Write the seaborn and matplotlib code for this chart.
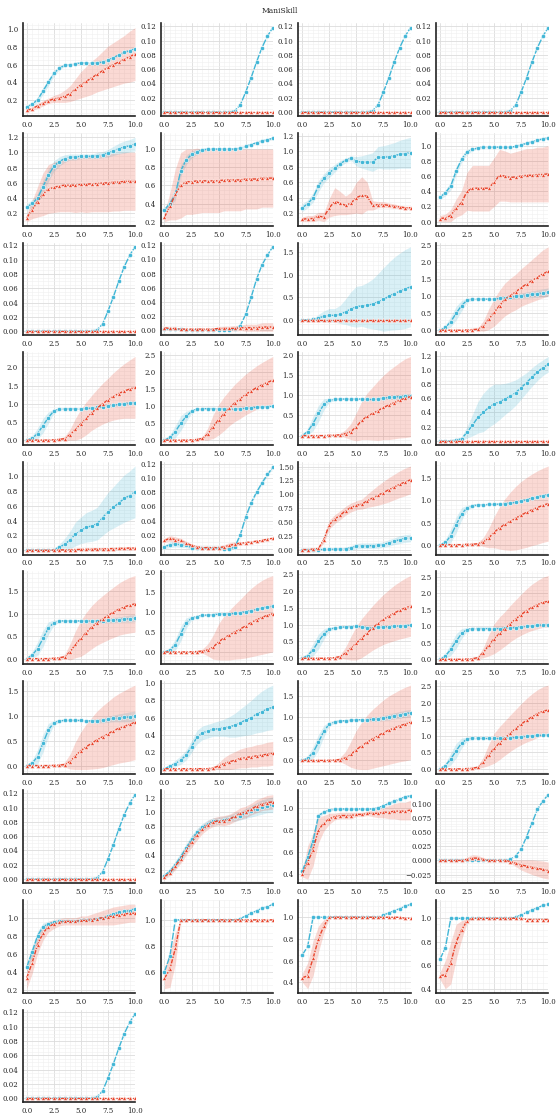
import numpy as np
import pandas as pd
import matplotlib
matplotlib.use("Agg")
import matplotlib.pyplot as plt
from matplotlib.ticker import MaxNLocator
import seaborn as sns

# training progress (x axis)
steps = [0.0, 0.5, 1.0, 1.5, 2.0, 2.5, 3.0, 3.5, 4.0, 4.5, 5.0,
         5.5, 6.0, 6.5, 7.0, 7.5, 8.0, 8.5, 9.0, 9.5, 10.0]

# shared curves
zero = [0.0, 0.0, 0.0, 0.0, 0.0, 0.0, 0.0, 0.0, 0.0, 0.0, 0.0,
        0.0, 0.0, 0.0, 0.0, 0.0, 0.0, 0.0, 0.0, 0.0, 0.0]
sig_b = [0.0, 0.0, 0.0, 0.0, 0.0, 0.0, 0.0, 0.0, 0.0, 0.0, 0.0,
         0.0, 0.0, 0.002, 0.010, 0.028, 0.048, 0.070, 0.090, 0.106, 0.118]

# per-task curves: _b / _r = means, _be / _re = band half widths
p01_b = [0.12, 0.15, 0.20, 0.30, 0.40, 0.50, 0.56, 0.59, 0.60, 0.61, 0.62, 0.62, 0.62, 0.62, 0.63, 0.65, 0.68, 0.71, 0.74, 0.76, 0.78]
p01_be = [0.01, 0.02, 0.03, 0.04, 0.04, 0.03, 0.02, 0.01, 0.01, 0.01, 0.01, 0.01, 0.01, 0.01, 0.01, 0.01, 0.01, 0.01, 0.01, 0.01, 0.01]
p01_r = [0.08, 0.10, 0.13, 0.16, 0.19, 0.21, 0.22, 0.24, 0.27, 0.32, 0.37, 0.41, 0.45, 0.49, 0.53, 0.57, 0.60, 0.63, 0.66, 0.69, 0.72]
p01_re = [0.02, 0.02, 0.03, 0.03, 0.03, 0.04, 0.05, 0.07, 0.09, 0.12, 0.15, 0.17, 0.19, 0.20, 0.22, 0.24, 0.25, 0.26, 0.27, 0.29, 0.30]

p05_b = [0.28, 0.33, 0.40, 0.55, 0.70, 0.82, 0.88, 0.92, 0.94, 0.94, 0.95, 0.95, 0.95, 0.96, 0.97, 0.99, 1.02, 1.05, 1.07, 1.09, 1.11]
p05_be = [0.04, 0.05, 0.06, 0.08, 0.08, 0.07, 0.06, 0.05, 0.04, 0.04, 0.03, 0.03, 0.03, 0.04, 0.04, 0.05, 0.06, 0.07, 0.08, 0.08, 0.09]
p05_r = [0.14, 0.25, 0.35, 0.45, 0.52, 0.54, 0.56, 0.57, 0.57, 0.57, 0.58, 0.58, 0.59, 0.59, 0.60, 0.60, 0.61, 0.61, 0.62, 0.62, 0.62]
p05_re = [0.05, 0.12, 0.20, 0.28, 0.32, 0.33, 0.34, 0.35, 0.35, 0.36, 0.36, 0.37, 0.37, 0.37, 0.38, 0.38, 0.38, 0.38, 0.38, 0.38, 0.38]

p06_b = [0.33, 0.40, 0.50, 0.76, 0.88, 0.94, 0.97, 0.99, 1.00, 1.00, 1.00, 1.00, 1.00, 1.00, 1.01, 1.03, 1.05, 1.07, 1.09, 1.10, 1.12]
p06_be = [0.03, 0.04, 0.06, 0.06, 0.05, 0.04, 0.03, 0.02, 0.01, 0.01, 0.01, 0.01, 0.01, 0.01, 0.01, 0.01, 0.01, 0.01, 0.01, 0.01, 0.01]
p06_r = [0.25, 0.37, 0.50, 0.60, 0.64, 0.64, 0.65, 0.65, 0.65, 0.65, 0.65, 0.66, 0.66, 0.66, 0.66, 0.67, 0.67, 0.67, 0.68, 0.68, 0.68]
p06_re = [0.05, 0.15, 0.28, 0.36, 0.36, 0.36, 0.36, 0.35, 0.35, 0.35, 0.35, 0.34, 0.34, 0.34, 0.34, 0.33, 0.33, 0.33, 0.32, 0.32, 0.32]

p07_b = [0.27, 0.32, 0.40, 0.55, 0.65, 0.72, 0.78, 0.84, 0.88, 0.91, 0.87, 0.86, 0.86, 0.86, 0.92, 0.92, 0.93, 0.94, 0.96, 0.97, 0.98]
p07_be = [0.05, 0.05, 0.06, 0.07, 0.06, 0.06, 0.05, 0.04, 0.03, 0.03, 0.06, 0.08, 0.10, 0.12, 0.14, 0.15, 0.16, 0.17, 0.18, 0.19, 0.20]
p07_r = [0.12, 0.13, 0.13, 0.16, 0.15, 0.27, 0.35, 0.33, 0.30, 0.33, 0.40, 0.43, 0.42, 0.30, 0.31, 0.31, 0.30, 0.29, 0.28, 0.27, 0.27]
p07_re = [0.03, 0.04, 0.04, 0.05, 0.06, 0.12, 0.18, 0.15, 0.12, 0.14, 0.20, 0.24, 0.18, 0.06, 0.04, 0.04, 0.03, 0.03, 0.02, 0.02, 0.02]

p08_b = [0.32, 0.38, 0.47, 0.67, 0.82, 0.92, 0.95, 0.97, 0.98, 0.98, 0.98, 0.98, 0.98, 0.98, 0.99, 1.01, 1.03, 1.05, 1.07, 1.09, 1.10]
p08_be = [0.03, 0.04, 0.05, 0.05, 0.04, 0.03, 0.02, 0.01, 0.01, 0.01, 0.01, 0.01, 0.01, 0.01, 0.01, 0.01, 0.01, 0.01, 0.01, 0.01, 0.01]
p08_r = [0.04, 0.05, 0.08, 0.18, 0.25, 0.40, 0.44, 0.44, 0.44, 0.44, 0.52, 0.61, 0.60, 0.58, 0.59, 0.60, 0.61, 0.61, 0.62, 0.62, 0.63]
p08_re = [0.04, 0.05, 0.08, 0.12, 0.16, 0.25, 0.30, 0.30, 0.30, 0.30, 0.32, 0.34, 0.33, 0.32, 0.33, 0.34, 0.35, 0.35, 0.36, 0.36, 0.37]

p10_b = [0.001, 0.001, 0.001, 0.001, 0.0, 0.0, 0.0, 0.0, 0.0, 0.0, 0.0, 0.0, 0.0, 0.001, 0.006, 0.022, 0.046, 0.072, 0.092, 0.106, 0.118]
p10_r = [0.003, 0.002, 0.002, 0.001, 0.001, 0.001, 0.001, 0.001, 0.001, 0.001, 0.002, 0.002, 0.002, 0.002, 0.003, 0.003, 0.003, 0.003, 0.004, 0.004, 0.004]
p10_re = [0.001, 0.001, 0.001, 0.001, 0.001, 0.001, 0.001, 0.001, 0.001, 0.002, 0.002, 0.003, 0.003, 0.004, 0.004, 0.005, 0.005, 0.005, 0.006, 0.006, 0.006]

p11_b = [0.0, 0.0, 0.01, 0.04, 0.08, 0.10, 0.10, 0.12, 0.18, 0.24, 0.29, 0.31, 0.32, 0.35, 0.40, 0.45, 0.52, 0.58, 0.63, 0.68, 0.73]
p11_be = [0.0, 0.0, 0.02, 0.08, 0.12, 0.15, 0.15, 0.20, 0.28, 0.38, 0.45, 0.45, 0.50, 0.55, 0.62, 0.70, 0.75, 0.80, 0.84, 0.87, 0.88]

p12_b = [0.0, 0.08, 0.25, 0.50, 0.72, 0.88, 0.91, 0.91, 0.91, 0.91, 0.92, 0.93, 0.95, 0.97, 0.99, 1.01, 1.03, 1.05, 1.07, 1.09, 1.11]
p12_be = [0.02, 0.07, 0.15, 0.20, 0.15, 0.06, 0.03, 0.02, 0.02, 0.02, 0.03, 0.04, 0.05, 0.06, 0.07, 0.08, 0.09, 0.10, 0.11, 0.12, 0.13]
p12_r = [0.0, 0.0, 0.0, 0.0, 0.0, 0.01, 0.02, 0.03, 0.12, 0.32, 0.52, 0.72, 0.90, 1.02, 1.12, 1.25, 1.35, 1.45, 1.55, 1.65, 1.72]
p12_re = [0.0, 0.0, 0.0, 0.0, 0.0, 0.01, 0.02, 0.04, 0.15, 0.30, 0.40, 0.45, 0.48, 0.50, 0.52, 0.55, 0.58, 0.62, 0.66, 0.70, 0.72]

p13_b = [0.0, 0.05, 0.18, 0.40, 0.62, 0.80, 0.85, 0.86, 0.86, 0.86, 0.86, 0.87, 0.88, 0.90, 0.92, 0.94, 0.96, 0.98, 1.00, 1.02, 1.03]
p13_be = [0.02, 0.07, 0.15, 0.20, 0.15, 0.06, 0.03, 0.02, 0.02, 0.02, 0.02, 0.02, 0.03, 0.03, 0.03, 0.04, 0.04, 0.04, 0.05, 0.05, 0.05]
p13_r = [0.0, 0.0, 0.0, 0.0, 0.0, 0.01, 0.02, 0.04, 0.15, 0.30, 0.45, 0.60, 0.75, 0.88, 1.00, 1.10, 1.20, 1.28, 1.35, 1.40, 1.45]
p13_re = [0.0, 0.0, 0.0, 0.0, 0.0, 0.01, 0.03, 0.06, 0.15, 0.30, 0.40, 0.45, 0.48, 0.52, 0.56, 0.60, 0.65, 0.70, 0.75, 0.80, 0.85]

p14_b = [0.0, 0.08, 0.25, 0.50, 0.70, 0.85, 0.92, 0.93, 0.93, 0.93, 0.93, 0.92, 0.91, 0.92, 0.93, 0.94, 0.96, 0.97, 0.98, 0.99, 1.00]
p14_be = [0.02, 0.08, 0.18, 0.22, 0.15, 0.06, 0.03, 0.02, 0.02, 0.02, 0.02, 0.02, 0.02, 0.02, 0.02, 0.02, 0.02, 0.02, 0.02, 0.02, 0.02]
p14_r = [0.0, 0.0, 0.0, 0.0, 0.0, 0.01, 0.02, 0.05, 0.18, 0.40, 0.60, 0.78, 0.95, 1.10, 1.22, 1.35, 1.45, 1.55, 1.63, 1.70, 1.77]
p14_re = [0.0, 0.0, 0.0, 0.0, 0.0, 0.01, 0.02, 0.05, 0.18, 0.35, 0.45, 0.50, 0.52, 0.55, 0.58, 0.60, 0.62, 0.64, 0.66, 0.68, 0.70]

p15_b = [0.0, 0.10, 0.30, 0.55, 0.78, 0.88, 0.90, 0.91, 0.91, 0.91, 0.91, 0.91, 0.90, 0.90, 0.91, 0.93, 0.95, 0.96, 0.97, 0.98, 0.99]
p15_be = [0.02, 0.08, 0.18, 0.20, 0.14, 0.05, 0.03, 0.02, 0.02, 0.02, 0.02, 0.02, 0.02, 0.03, 0.03, 0.04, 0.05, 0.05, 0.06, 0.06, 0.06]
p15_r = [0.0, 0.0, 0.0, 0.0, 0.0, 0.01, 0.01, 0.02, 0.05, 0.10, 0.22, 0.38, 0.48, 0.55, 0.62, 0.70, 0.76, 0.82, 0.88, 0.93, 0.97]
p15_re = [0.0, 0.0, 0.0, 0.0, 0.0, 0.01, 0.01, 0.03, 0.10, 0.20, 0.35, 0.48, 0.58, 0.66, 0.74, 0.80, 0.86, 0.90, 0.94, 0.98, 1.00]

p16_b = [0.0, 0.0, 0.0, 0.01, 0.03, 0.12, 0.22, 0.33, 0.40, 0.47, 0.52, 0.55, 0.59, 0.63, 0.68, 0.75, 0.82, 0.90, 0.97, 1.03, 1.08]
p16_be = [0.0, 0.0, 0.0, 0.01, 0.03, 0.08, 0.15, 0.22, 0.27, 0.28, 0.28, 0.25, 0.22, 0.20, 0.18, 0.16, 0.14, 0.13, 0.12, 0.11, 0.11]

p17_b = [0.0, 0.0, 0.0, 0.0, 0.0, 0.01, 0.04, 0.08, 0.14, 0.22, 0.27, 0.31, 0.33, 0.36, 0.44, 0.52, 0.58, 0.64, 0.70, 0.74, 0.79]
p17_be = [0.0, 0.0, 0.0, 0.0, 0.0, 0.01, 0.04, 0.08, 0.12, 0.16, 0.18, 0.20, 0.21, 0.22, 0.24, 0.26, 0.28, 0.30, 0.32, 0.33, 0.35]
p17_r = [0.0, 0.0, 0.0, 0.0, 0.0, 0.002, 0.004, 0.006, 0.008, 0.010, 0.012, 0.014, 0.015, 0.017, 0.019, 0.021, 0.023, 0.025, 0.027, 0.029, 0.030]
p17_re = [0.0, 0.0, 0.0, 0.0, 0.0, 0.004, 0.005, 0.006, 0.007, 0.008, 0.009, 0.010, 0.011, 0.012, 0.013, 0.014, 0.015, 0.016, 0.017, 0.018, 0.020]

p18_b = [0.003, 0.006, 0.007, 0.006, 0.005, 0.002, 0.001, 0.001, 0.002, 0.001, 0.002, 0.0, 0.0, 0.003, 0.020, 0.045, 0.065, 0.080, 0.093, 0.105, 0.115]
p18_be = [0.003, 0.004, 0.004, 0.004, 0.003, 0.003, 0.002, 0.002, 0.002, 0.002, 0.002, 0.002, 0.002, 0.002, 0.002, 0.002, 0.002, 0.002, 0.002, 0.002, 0.002]
p18_r = [0.012, 0.015, 0.013, 0.012, 0.008, 0.005, 0.003, 0.002, 0.002, 0.002, 0.002, 0.003, 0.005, 0.007, 0.008, 0.009, 0.010, 0.011, 0.012, 0.014, 0.015]
p18_re = [0.003, 0.004, 0.004, 0.003, 0.003, 0.002, 0.002, 0.001, 0.001, 0.001, 0.002, 0.003, 0.004, 0.003, 0.002, 0.001, 0.001, 0.001, 0.001, 0.001, 0.001]

p19_b = [0.0, 0.0, 0.0, 0.0, 0.003, 0.005, 0.008, 0.01, 0.015, 0.03, 0.06, 0.07, 0.07, 0.07, 0.075, 0.09, 0.12, 0.15, 0.18, 0.20, 0.21]
p19_be = [0.0, 0.0, 0.0, 0.0, 0.01, 0.01, 0.02, 0.02, 0.03, 0.04, 0.05, 0.05, 0.05, 0.05, 0.05, 0.05, 0.06, 0.06, 0.07, 0.07, 0.07]
p19_r = [0.0, 0.0, 0.01, 0.02, 0.18, 0.45, 0.55, 0.62, 0.70, 0.76, 0.80, 0.82, 0.88, 0.93, 0.98, 1.03, 1.08, 1.13, 1.18, 1.22, 1.26]
p19_re = [0.0, 0.0, 0.01, 0.02, 0.06, 0.08, 0.08, 0.08, 0.08, 0.08, 0.08, 0.09, 0.12, 0.15, 0.18, 0.20, 0.22, 0.23, 0.24, 0.25, 0.25]

p20_b = [0.0, 0.05, 0.20, 0.45, 0.70, 0.83, 0.88, 0.90, 0.90, 0.91, 0.91, 0.92, 0.93, 0.94, 0.96, 0.99, 1.02, 1.05, 1.08, 1.11, 1.13]
p20_be = [0.02, 0.07, 0.15, 0.18, 0.14, 0.06, 0.03, 0.02, 0.02, 0.02, 0.02, 0.02, 0.02, 0.02, 0.02, 0.02, 0.02, 0.02, 0.03, 0.03, 0.03]
p20_r = [0.0, 0.0, 0.0, 0.0, 0.0, 0.01, 0.01, 0.02, 0.06, 0.15, 0.28, 0.38, 0.46, 0.53, 0.60, 0.67, 0.73, 0.79, 0.84, 0.89, 0.93]
p20_re = [0.0, 0.0, 0.0, 0.0, 0.0, 0.01, 0.01, 0.03, 0.10, 0.22, 0.35, 0.48, 0.58, 0.66, 0.72, 0.76, 0.79, 0.81, 0.83, 0.84, 0.85]

p21_b = [0.0, 0.08, 0.22, 0.45, 0.68, 0.80, 0.84, 0.84, 0.84, 0.84, 0.84, 0.84, 0.84, 0.84, 0.84, 0.85, 0.86, 0.87, 0.88, 0.89, 0.90]
p21_be = [0.02, 0.07, 0.15, 0.18, 0.14, 0.06, 0.03, 0.02, 0.02, 0.02, 0.02, 0.02, 0.02, 0.03, 0.04, 0.05, 0.06, 0.06, 0.07, 0.08, 0.08]
p21_r = [0.0, 0.0, 0.0, 0.0, 0.0, 0.01, 0.02, 0.04, 0.15, 0.32, 0.45, 0.58, 0.70, 0.80, 0.88, 0.96, 1.03, 1.10, 1.15, 1.19, 1.22]
p21_re = [0.0, 0.0, 0.0, 0.0, 0.0, 0.01, 0.02, 0.05, 0.18, 0.30, 0.40, 0.45, 0.48, 0.50, 0.52, 0.54, 0.56, 0.58, 0.60, 0.62, 0.63]

p22_b = [0.0, 0.05, 0.18, 0.45, 0.72, 0.84, 0.88, 0.91, 0.92, 0.93, 0.94, 0.95, 0.95, 0.96, 0.98, 1.00, 1.03, 1.06, 1.09, 1.12, 1.14]
p22_be = [0.02, 0.06, 0.14, 0.18, 0.13, 0.05, 0.03, 0.02, 0.02, 0.02, 0.02, 0.02, 0.02, 0.02, 0.02, 0.02, 0.02, 0.02, 0.02, 0.02, 0.02]
p22_r = [0.0, 0.0, 0.0, 0.0, 0.0, 0.005, 0.01, 0.02, 0.05, 0.12, 0.25, 0.35, 0.42, 0.50, 0.57, 0.65, 0.73, 0.80, 0.86, 0.91, 0.95]
p22_re = [0.0, 0.0, 0.0, 0.0, 0.0, 0.01, 0.02, 0.05, 0.15, 0.30, 0.45, 0.55, 0.62, 0.68, 0.74, 0.80, 0.85, 0.89, 0.92, 0.94, 0.95]

p23_b = [0.0, 0.08, 0.25, 0.50, 0.72, 0.86, 0.90, 0.92, 0.93, 0.94, 0.95, 0.93, 0.91, 0.91, 0.92, 0.93, 0.94, 0.95, 0.96, 0.97, 0.98]
p23_be = [0.02, 0.08, 0.18, 0.22, 0.15, 0.06, 0.03, 0.02, 0.02, 0.02, 0.02, 0.02, 0.02, 0.02, 0.02, 0.02, 0.02, 0.02, 0.02, 0.02, 0.02]
p23_r = [0.0, 0.0, 0.0, 0.0, 0.0, 0.01, 0.02, 0.05, 0.15, 0.30, 0.45, 0.60, 0.75, 0.90, 1.03, 1.15, 1.25, 1.34, 1.42, 1.49, 1.55]
p23_re = [0.0, 0.0, 0.0, 0.0, 0.0, 0.01, 0.02, 0.05, 0.18, 0.35, 0.50, 0.58, 0.62, 0.66, 0.70, 0.74, 0.78, 0.82, 0.85, 0.88, 0.90]

p24_b = [0.0, 0.10, 0.30, 0.55, 0.78, 0.90, 0.93, 0.93, 0.93, 0.93, 0.93, 0.93, 0.94, 0.95, 0.96, 0.98, 1.00, 1.01, 1.03, 1.04, 1.05]
p24_be = [0.02, 0.08, 0.18, 0.22, 0.15, 0.06, 0.03, 0.02, 0.02, 0.02, 0.02, 0.02, 0.02, 0.02, 0.02, 0.02, 0.02, 0.02, 0.02, 0.02, 0.02]
p24_r = [0.0, 0.0, 0.0, 0.0, 0.0, 0.01, 0.02, 0.05, 0.20, 0.42, 0.62, 0.78, 0.92, 1.08, 1.22, 1.35, 1.47, 1.57, 1.65, 1.72, 1.75]
p24_re = [0.0, 0.0, 0.0, 0.0, 0.0, 0.01, 0.02, 0.05, 0.15, 0.32, 0.45, 0.50, 0.52, 0.55, 0.58, 0.62, 0.66, 0.70, 0.73, 0.76, 0.78]

p25_b = [0.0, 0.05, 0.18, 0.45, 0.72, 0.86, 0.90, 0.91, 0.91, 0.91, 0.91, 0.90, 0.90, 0.90, 0.91, 0.93, 0.95, 0.96, 0.97, 0.98, 1.00]
p25_be = [0.02, 0.06, 0.14, 0.18, 0.13, 0.05, 0.03, 0.02, 0.02, 0.02, 0.02, 0.02, 0.03, 0.04, 0.05, 0.06, 0.07, 0.08, 0.09, 0.10, 0.10]
p25_r = [0.0, 0.0, 0.0, 0.0, 0.0, 0.005, 0.01, 0.02, 0.08, 0.20, 0.30, 0.38, 0.45, 0.52, 0.58, 0.64, 0.70, 0.75, 0.79, 0.83, 0.87]
p25_re = [0.0, 0.0, 0.0, 0.0, 0.0, 0.01, 0.02, 0.05, 0.15, 0.28, 0.38, 0.46, 0.52, 0.58, 0.62, 0.65, 0.68, 0.70, 0.72, 0.74, 0.75]

p26_b = [0.0, 0.03, 0.06, 0.10, 0.16, 0.26, 0.37, 0.42, 0.44, 0.46, 0.47, 0.48, 0.49, 0.51, 0.54, 0.57, 0.60, 0.64, 0.67, 0.70, 0.72]
p26_be = [0.0, 0.02, 0.04, 0.05, 0.06, 0.07, 0.08, 0.08, 0.08, 0.08, 0.09, 0.10, 0.12, 0.14, 0.16, 0.18, 0.20, 0.22, 0.24, 0.25, 0.26]
p26_r = [0.0, 0.0, 0.0, 0.0, 0.0, 0.0, 0.0, 0.0, 0.0, 0.01, 0.03, 0.06, 0.08, 0.10, 0.12, 0.13, 0.14, 0.15, 0.16, 0.17, 0.18]
p26_re = [0.0, 0.0, 0.0, 0.0, 0.0, 0.0, 0.0, 0.0, 0.0, 0.01, 0.04, 0.07, 0.09, 0.10, 0.11, 0.12, 0.12, 0.13, 0.13, 0.14, 0.14]

p27_b = [0.0, 0.05, 0.18, 0.42, 0.68, 0.84, 0.89, 0.91, 0.92, 0.93, 0.94, 0.94, 0.94, 0.95, 0.96, 0.98, 1.00, 1.03, 1.05, 1.08, 1.10]
p27_be = [0.02, 0.06, 0.14, 0.18, 0.13, 0.05, 0.03, 0.02, 0.02, 0.02, 0.02, 0.02, 0.03, 0.04, 0.05, 0.06, 0.07, 0.07, 0.08, 0.08, 0.08]
p27_r = [0.0, 0.0, 0.0, 0.0, 0.0, 0.005, 0.01, 0.02, 0.06, 0.14, 0.25, 0.34, 0.42, 0.50, 0.57, 0.64, 0.70, 0.75, 0.80, 0.84, 0.88]
p27_re = [0.0, 0.0, 0.0, 0.0, 0.0, 0.01, 0.02, 0.05, 0.15, 0.30, 0.45, 0.55, 0.63, 0.68, 0.72, 0.76, 0.79, 0.81, 0.83, 0.85, 0.86]

p28_b = [0.0, 0.10, 0.30, 0.55, 0.78, 0.90, 0.93, 0.93, 0.92, 0.92, 0.92, 0.92, 0.93, 0.94, 0.95, 0.97, 0.99, 1.00, 1.01, 1.02, 1.03]
p28_be = [0.02, 0.08, 0.18, 0.22, 0.15, 0.06, 0.03, 0.02, 0.02, 0.02, 0.02, 0.02, 0.02, 0.02, 0.02, 0.02, 0.02, 0.02, 0.02, 0.02, 0.02]
p28_r = [0.0, 0.0, 0.0, 0.0, 0.0, 0.01, 0.02, 0.05, 0.20, 0.42, 0.62, 0.78, 0.93, 1.08, 1.22, 1.35, 1.47, 1.57, 1.67, 1.74, 1.78]
p28_re = [0.0, 0.0, 0.0, 0.0, 0.0, 0.01, 0.02, 0.05, 0.15, 0.32, 0.45, 0.50, 0.52, 0.55, 0.58, 0.62, 0.66, 0.70, 0.72, 0.74, 0.75]

p30_b = [0.12, 0.18, 0.27, 0.38, 0.50, 0.62, 0.72, 0.79, 0.84, 0.87, 0.88, 0.89, 0.91, 0.93, 0.95, 0.98, 1.01, 1.04, 1.07, 1.09, 1.10]
p30_be = [0.03, 0.04, 0.05, 0.06, 0.06, 0.06, 0.05, 0.05, 0.05, 0.05, 0.05, 0.05, 0.05, 0.06, 0.06, 0.07, 0.08, 0.09, 0.10, 0.10, 0.11]
p30_r = [0.10, 0.16, 0.25, 0.35, 0.47, 0.58, 0.68, 0.76, 0.82, 0.86, 0.88, 0.88, 0.90, 0.94, 0.98, 1.00, 1.04, 1.08, 1.11, 1.13, 1.14]
p30_re = [0.03, 0.04, 0.05, 0.06, 0.07, 0.07, 0.07, 0.06, 0.06, 0.06, 0.06, 0.07, 0.07, 0.07, 0.08, 0.08, 0.08, 0.09, 0.09, 0.10, 0.10]

p31_b = [0.42, 0.55, 0.70, 0.93, 0.96, 0.98, 0.99, 0.99, 0.99, 0.99, 0.99, 0.99, 0.99, 0.99, 1.00, 1.02, 1.04, 1.06, 1.08, 1.10, 1.11]
p31_be = [0.02, 0.03, 0.04, 0.02, 0.01, 0.01, 0.01, 0.01, 0.01, 0.01, 0.01, 0.01, 0.01, 0.01, 0.01, 0.01, 0.01, 0.01, 0.01, 0.01, 0.01]
p31_r = [0.40, 0.50, 0.62, 0.80, 0.86, 0.90, 0.92, 0.93, 0.93, 0.93, 0.94, 0.94, 0.95, 0.95, 0.95, 0.96, 0.96, 0.97, 0.97, 0.97, 0.98]
p31_re = [0.03, 0.15, 0.15, 0.12, 0.07, 0.05, 0.03, 0.03, 0.03, 0.03, 0.02, 0.02, 0.02, 0.03, 0.04, 0.05, 0.06, 0.07, 0.08, 0.08, 0.09]

p32_b = [0.0, 0.0, 0.0, 0.0, 0.0, 0.0, 0.0, 0.0, 0.0, 0.0, 0.0, 0.0, 0.0, 0.002, 0.008, 0.020, 0.042, 0.066, 0.090, 0.105, 0.116]
p32_r = [0.0, 0.0, 0.0, 0.0, 0.0, 0.002, 0.004, 0.004, 0.002, 0.0, 0.0, 0.0, 0.0, -0.002, -0.005, -0.008, -0.010, -0.012, -0.014, -0.016, -0.018]
p32_re = [0.0, 0.0, 0.0, 0.0, 0.001, 0.004, 0.006, 0.005, 0.003, 0.001, 0.0, 0.0, 0.001, 0.003, 0.006, 0.009, 0.011, 0.013, 0.014, 0.015, 0.015]

p33_b = [0.45, 0.62, 0.80, 0.90, 0.93, 0.95, 0.96, 0.96, 0.96, 0.96, 0.97, 0.97, 0.98, 0.99, 1.00, 1.02, 1.04, 1.06, 1.07, 1.08, 1.10]
p33_be = [0.05, 0.06, 0.05, 0.04, 0.03, 0.02, 0.02, 0.02, 0.02, 0.02, 0.02, 0.02, 0.02, 0.02, 0.02, 0.02, 0.02, 0.02, 0.02, 0.02, 0.02]
p33_r = [0.33, 0.50, 0.70, 0.83, 0.90, 0.93, 0.95, 0.96, 0.96, 0.96, 0.97, 0.97, 0.98, 0.99, 1.00, 1.01, 1.02, 1.03, 1.04, 1.05, 1.05]
p33_re = [0.12, 0.12, 0.10, 0.08, 0.06, 0.05, 0.04, 0.04, 0.04, 0.04, 0.05, 0.05, 0.06, 0.07, 0.08, 0.09, 0.10, 0.10, 0.10, 0.10, 0.10]

p34_b = [0.60, 0.72, 1.00, 1.00, 1.00, 1.00, 1.00, 1.00, 1.00, 1.00, 1.00, 1.00, 1.00, 1.00, 1.01, 1.03, 1.05, 1.07, 1.09, 1.10, 1.12]
p34_r = [0.55, 0.62, 0.78, 1.00, 1.00, 1.00, 1.00, 1.00, 1.00, 1.00, 1.00, 1.00, 1.00, 1.00, 1.00, 1.00, 1.00, 1.00, 1.00, 1.00, 1.00]
p34_re = [0.08, 0.14, 0.12, 0.01, 0.0, 0.0, 0.0, 0.0, 0.0, 0.0, 0.0, 0.0, 0.0, 0.0, 0.0, 0.0, 0.0, 0.0, 0.0, 0.0, 0.0]

p35_b = [0.65, 0.73, 1.00, 1.00, 1.00, 1.00, 1.00, 1.00, 1.00, 1.00, 1.00, 1.00, 1.00, 1.00, 1.00, 1.02, 1.04, 1.06, 1.08, 1.10, 1.12]
p35_r = [0.44, 0.46, 0.62, 0.80, 0.92, 1.00, 1.00, 1.00, 1.00, 1.00, 1.00, 1.00, 1.00, 1.00, 1.00, 1.00, 1.00, 1.00, 1.00, 0.99, 0.99]
p35_re = [0.04, 0.12, 0.16, 0.12, 0.06, 0.01, 0.0, 0.0, 0.0, 0.0, 0.0, 0.0, 0.0, 0.0, 0.0, 0.0, 0.0, 0.0, 0.0, 0.0, 0.0]

p36_b = [0.65, 0.75, 1.00, 1.00, 1.00, 1.00, 1.00, 1.00, 1.00, 1.00, 1.00, 1.00, 1.00, 1.00, 1.01, 1.03, 1.05, 1.07, 1.09, 1.11, 1.12]
p36_r = [0.51, 0.52, 0.62, 0.80, 0.90, 0.98, 1.00, 1.00, 1.00, 1.00, 1.00, 1.00, 1.00, 1.00, 1.00, 1.00, 0.99, 0.99, 0.99, 0.99, 0.99]
p36_re = [0.03, 0.12, 0.18, 0.15, 0.08, 0.02, 0.0, 0.0, 0.0, 0.0, 0.0, 0.0, 0.0, 0.0, 0.0, 0.0, 0.0, 0.0, 0.0, 0.0, 0.0]

panels = [
    (p01_b, p01_be, p01_r, p01_re), (sig_b, zero, zero, zero),
    (sig_b, zero, zero, zero), (sig_b, zero, zero, zero),
    (p05_b, p05_be, p05_r, p05_re), (p06_b, p06_be, p06_r, p06_re),
    (p07_b, p07_be, p07_r, p07_re), (p08_b, p08_be, p08_r, p08_re),
    (sig_b, zero, zero, zero), (p10_b, zero, p10_r, p10_re),
    (p11_b, p11_be, zero, zero), (p12_b, p12_be, p12_r, p12_re),
    (p13_b, p13_be, p13_r, p13_re), (p14_b, p14_be, p14_r, p14_re),
    (p15_b, p15_be, p15_r, p15_re), (p16_b, p16_be, zero, zero),
    (p17_b, p17_be, p17_r, p17_re), (p18_b, p18_be, p18_r, p18_re),
    (p19_b, p19_be, p19_r, p19_re), (p20_b, p20_be, p20_r, p20_re),
    (p21_b, p21_be, p21_r, p21_re), (p22_b, p22_be, p22_r, p22_re),
    (p23_b, p23_be, p23_r, p23_re), (p24_b, p24_be, p24_r, p24_re),
    (p25_b, p25_be, p25_r, p25_re), (p26_b, p26_be, p26_r, p26_re),
    (p27_b, p27_be, p27_r, p27_re), (p28_b, p28_be, p28_r, p28_re),
    (sig_b, zero, zero, zero), (p30_b, p30_be, p30_r, p30_re),
    (p31_b, p31_be, p31_r, p31_re), (p32_b, zero, p32_r, p32_re),
    (p33_b, p33_be, p33_r, p33_re), (p34_b, zero, p34_r, p34_re),
    (p35_b, zero, p35_r, p35_re), (p36_b, zero, p36_r, p36_re),
    (sig_b, zero, zero, zero),
]

methods = ["ours", "baseline"]
palette = {"ours": "#41b6d6", "baseline": "#e8452c"}

sns.set_theme(style="whitegrid")
plt.rcParams["font.family"] = ["DejaVu Serif"]
plt.rcParams["axes.unicode_minus"] = True

fig, axes = plt.subplots(10, 4, figsize=(5.6, 11.17), dpi=100)
fig.subplots_adjust(left=0.041, right=0.979, top=0.979, bottom=0.013,
                    wspace=0.229, hspace=0.18)
fig.suptitle("ManiSkill", fontsize=5.5, y=0.994)

x = np.array(steps)
for i, ax in enumerate(axes.flat):
    if i >= len(panels):
        ax.remove()
        continue
    b, be, r, re_ = panels[i]
    df = pd.DataFrame({
        "step": steps + steps,
        "value": list(b) + list(r),
        "method": ["ours"] * len(steps) + ["baseline"] * len(steps),
    })
    for m, mean, err in (("ours", b, be), ("baseline", r, re_)):
        mean = np.array(mean)
        err = np.array(err)
        ax.fill_between(x, mean - err, mean + err, color=palette[m],
                        alpha=0.2, lw=0, zorder=1)
    sns.lineplot(data=df, x="step", y="value", hue="method", style="method",
                 hue_order=methods, style_order=methods, palette=palette,
                 markers={"ours": "o", "baseline": "^"},
                 dashes={"ours": (5, 1), "baseline": (3, 1, 1, 1)},
                 markersize=3, markeredgewidth=0.4, linewidth=1.0,
                 legend=False, ax=ax, zorder=3)
    ax.set_xlim(-0.35, 10.0)
    ax.set_xticks([0, 2.5, 5, 7.5, 10])
    ax.yaxis.set_major_locator(MaxNLocator(nbins=7, steps=[1, 2, 2.5, 5, 10]))
    ax.set_xlabel("")
    ax.set_ylabel("")
    ax.minorticks_on()
    ax.grid(which="major", color="#dcdcdc", linewidth=0.6)
    ax.grid(which="minor", color="#f0f0f0", linewidth=0.4)
    ax.set_axisbelow(True)
    ax.tick_params(axis="both", which="major", labelsize=5, length=2,
                   width=0.6, pad=1.5, color="#333333")
    ax.tick_params(axis="both", which="minor", length=1.2, width=0.4,
                   color="#333333")
    for side in ("top", "right"):
        ax.spines[side].set_visible(False)
    for side in ("left", "bottom"):
        ax.spines[side].set_color("#222222")
        ax.spines[side].set_linewidth(1.2)

fig.savefig("out.png", dpi=100)
